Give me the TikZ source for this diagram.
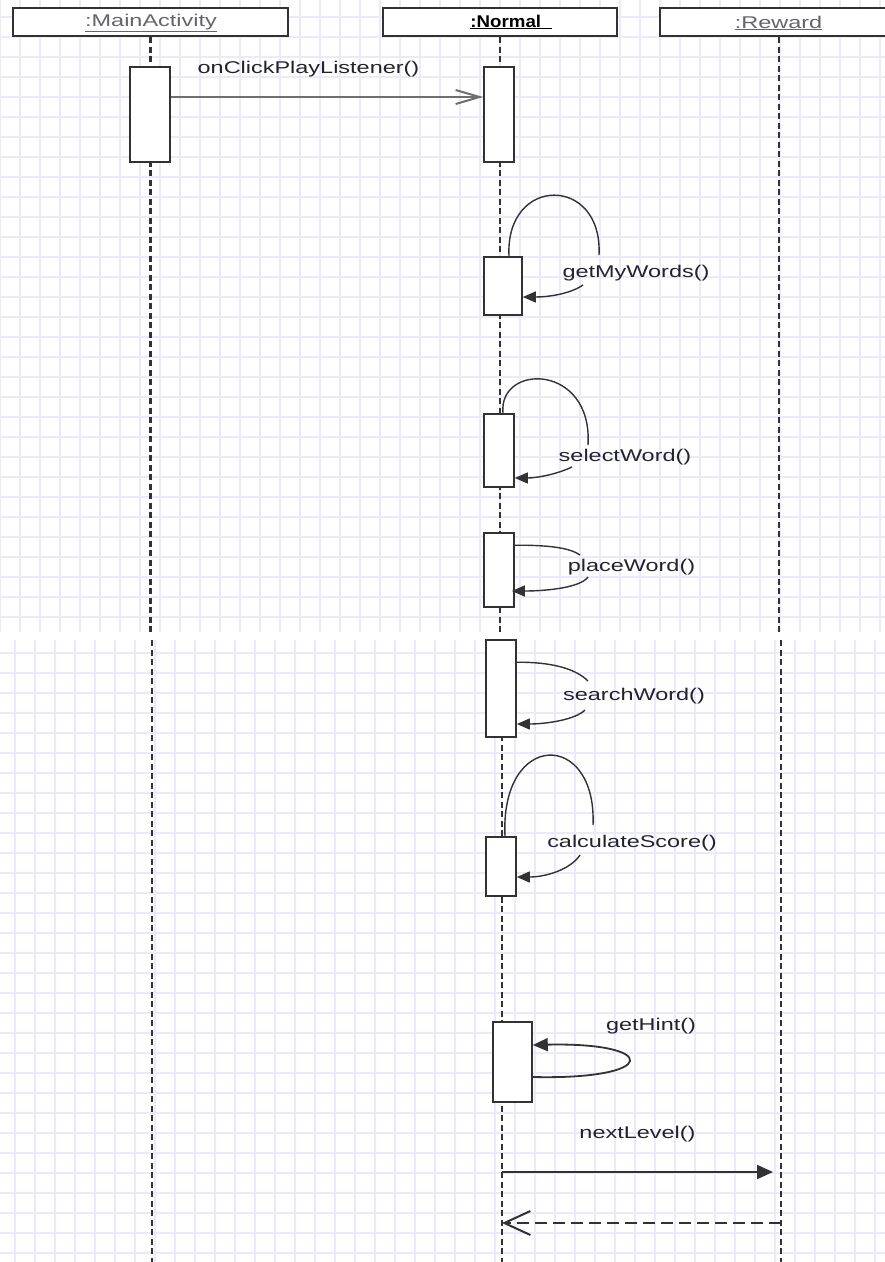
\documentclass[tikz,border=0pt]{standalone}
\usepackage{fontspec}
\setmainfont{Liberation Sans}
\usepackage{graphicx}
\usetikzlibrary{arrows.meta}
\definecolor{gridc}{RGB}{234,234,252}
\definecolor{linec}{RGB}{50,50,50}
\definecolor{txtc}{RGB}{35,35,45}
\definecolor{hdrtxt}{RGB}{100,100,110}
\definecolor{msgc}{RGB}{110,110,110}
\newcommand{\wide}[1]{\scalebox{1.38}[1]{#1}}
\begin{document}
\begin{tikzpicture}[x=1pt,y=-1pt,
  gridline/.style={gridc, line width=1.1pt},
  hdrbox/.style={draw=linec, line width=2pt, fill=white, minimum height=28pt, inner sep=0pt},
  actbox/.style={draw=linec, line width=1.6pt, fill=white, inner sep=0pt},
  lbl/.style={font=\fontsize{17}{20}\selectfont, text=txtc, inner sep=0pt},
  lifeline/.style={linec, line width=2.2pt, dash pattern=on 6pt off 3.5pt},
  selfcall/.style={linec, line width=1.4pt},
  filltip/.style={-{Triangle[length=13pt,width=11pt]}},
]
\useasboundingbox (0,0) rectangle (885,1262);
\clip (0,0) rectangle (885,1262);
\fill[white] (0,0) rectangle (885,1262);

% grid, upper and lower screenshot parts
\foreach \x in {0,20,...,880} \draw[gridline] (\x,0) -- (\x,632);
\foreach \y in {17,37,...,617} \draw[gridline] (0,\y) -- (885,\y);
\foreach \x in {15,35,...,875} \draw[gridline] (\x,640) -- (\x,1262);
\foreach \y in {653,673,...,1253} \draw[gridline] (0,\y) -- (885,\y);

% headers
\node[hdrbox, minimum width=275pt] (hMain) at (150.5,22) {};
\node[lbl] (tMain) at (151,23) {\color{hdrtxt}\wide{\underline{:MainActivity}}};
\node[hdrbox, minimum width=234pt] (hNorm) at (500,22) {};
\node[lbl] (tNorm) at (511,22) {\color{black}\scalebox{1.1}[1]{\bfseries\underline{:Normal\ \ }}};
\node[hdrbox, minimum width=238pt] (hRew) at (779,22) {};
\node[lbl] (tRew) at (778.5,23) {\color{hdrtxt}\wide{\underline{:Reward}}};

% lifelines
\coordinate (mA) at (150.5,632);
\coordinate (mB) at (152,640);
\coordinate (mC) at (152,1262);
\coordinate (nA) at (500,632);
\coordinate (nB) at (502,640);
\coordinate (nC) at (502,1262);
\coordinate (rA) at (779,632);
\coordinate (rB) at (781,640);
\coordinate (rC) at (781,1262);
\draw[lifeline] (hMain.south) -- (mA);
\draw[lifeline] (mB) -- (mC);
\draw[lifeline] (hNorm.south) -- (nA);
\draw[lifeline] (nB) -- (nC);
\draw[lifeline] (hRew.south) -- (rA);
\draw[lifeline] (rB) -- (rC);

% activations
\node[actbox, minimum width=40pt, minimum height=95pt] (aMain) at (150,114.5) {};
\node[actbox, minimum width=30pt, minimum height=95pt] (aN1) at (499,114.5) {};
\node[actbox, minimum width=38pt, minimum height=58pt] (aN2) at (503,286) {};
\node[actbox, minimum width=30pt, minimum height=73pt] (aN3) at (499,450.5) {};
\node[actbox, minimum width=30pt, minimum height=74pt] (aN4) at (499,570) {};
\node[actbox, minimum width=30pt, minimum height=97pt] (aN5) at (501,688.5) {};
\node[actbox, minimum width=30pt, minimum height=59pt] (aN6) at (501,866.5) {};
\node[actbox, minimum width=39pt, minimum height=80pt] (aN7) at (512.5,1062) {};

% onClickPlayListener
\coordinate (y97) at (0,97);
\draw[msgc, line width=2.6pt, -{Straight Barb[length=24pt,width=14pt,line width=2pt]}] (aMain.east |- y97) -- (aN1.west |- y97);
\node[lbl] (lClick) at (308.5,69) {\wide{onClickPlayListener()}};

% getMyWords
\coordinate (g1) at (599,255);
\coordinate (g2) at (583,285);
\draw[selfcall] ([xshift=6pt]aN2.north) .. controls (505,175) and (603,175) .. (g1);
\draw[selfcall, filltip] (g2) .. controls (570,294) and (548,297) .. ([yshift=-11pt]aN2.east);
\node[lbl] (lMy) at (636,273) {\wide{getMyWords()}};

% selectWord
\coordinate (s1) at (588,445);
\coordinate (s2) at (572,467);
\draw[selfcall] ([xshift=4pt]aN3.north) .. controls (498,363) and (593,363) .. (s1);
\draw[selfcall, filltip] (s2) .. controls (555,475) and (535,478) .. ([yshift=-27.5pt]aN3.east);
\node[lbl] (lSel) at (625,457) {\wide{selectWord()}};

% placeWord
\coordinate (p1) at (580,555);
\coordinate (p2) at (588,577);
\draw[selfcall] ([yshift=-13pt]aN4.north east) .. controls (550,545) and (570,548) .. (p1);
\draw[selfcall, filltip] (p2) .. controls (580,588) and (545,591) .. ([xshift=-3pt,yshift=-21pt]aN4.east);
\node[lbl] (lPlace) at (631.5,567) {\wide{placeWord()}};

% searchWord
\coordinate (w1) at (588,681);
\coordinate (w2) at (585,710);
\draw[selfcall] ([yshift=-23pt]aN5.north east) .. controls (550,662) and (575,668) .. (w1);
\draw[selfcall, filltip] (w2) .. controls (575,720) and (545,724) .. ([yshift=-35.5pt]aN5.east);
\node[lbl] (lSearch) at (634,696) {\wide{searchWord()}};

% calculateScore
\coordinate (c1) at (593,825);
\coordinate (c2) at (580,855);
\draw[selfcall] ([xshift=4pt]aN6.north) .. controls (500,730) and (597,730) .. (c1);
\draw[selfcall, filltip] (c2) .. controls (570,870) and (545,877) .. ([yshift=-10.5pt]aN6.east);
\node[lbl] (lCalc) at (632,843) {\wide{calculateScore()}};

% getHint
\draw[linec, line width=1.8pt, -{Triangle[length=15pt,width=13pt]}] ([yshift=-15pt]aN7.east) .. controls (660,1080) and (660,1042) .. ([yshift=17pt]aN7.east);
\node[lbl] (lHint) at (651,1026) {\wide{getHint()}};

% nextLevel
\coordinate (nlA) at (502,1172);
\coordinate (nlB) at (773,1172);
\draw[linec, line width=2pt, -{Triangle[length=16pt,width=14pt]}] (nlA) -- (nlB);
\node[lbl] (lNext) at (637.5,1134) {\wide{nextLevel()}};

% return
\coordinate (rtA) at (781,1223);
\coordinate (rtB) at (502,1223);
\draw[linec, line width=2.4pt, dash pattern=on 12pt off 6pt, -{Straight Barb[length=26pt,width=24pt,line width=2pt]}] (rtA) -- (rtB);
\end{tikzpicture}
\end{document}
